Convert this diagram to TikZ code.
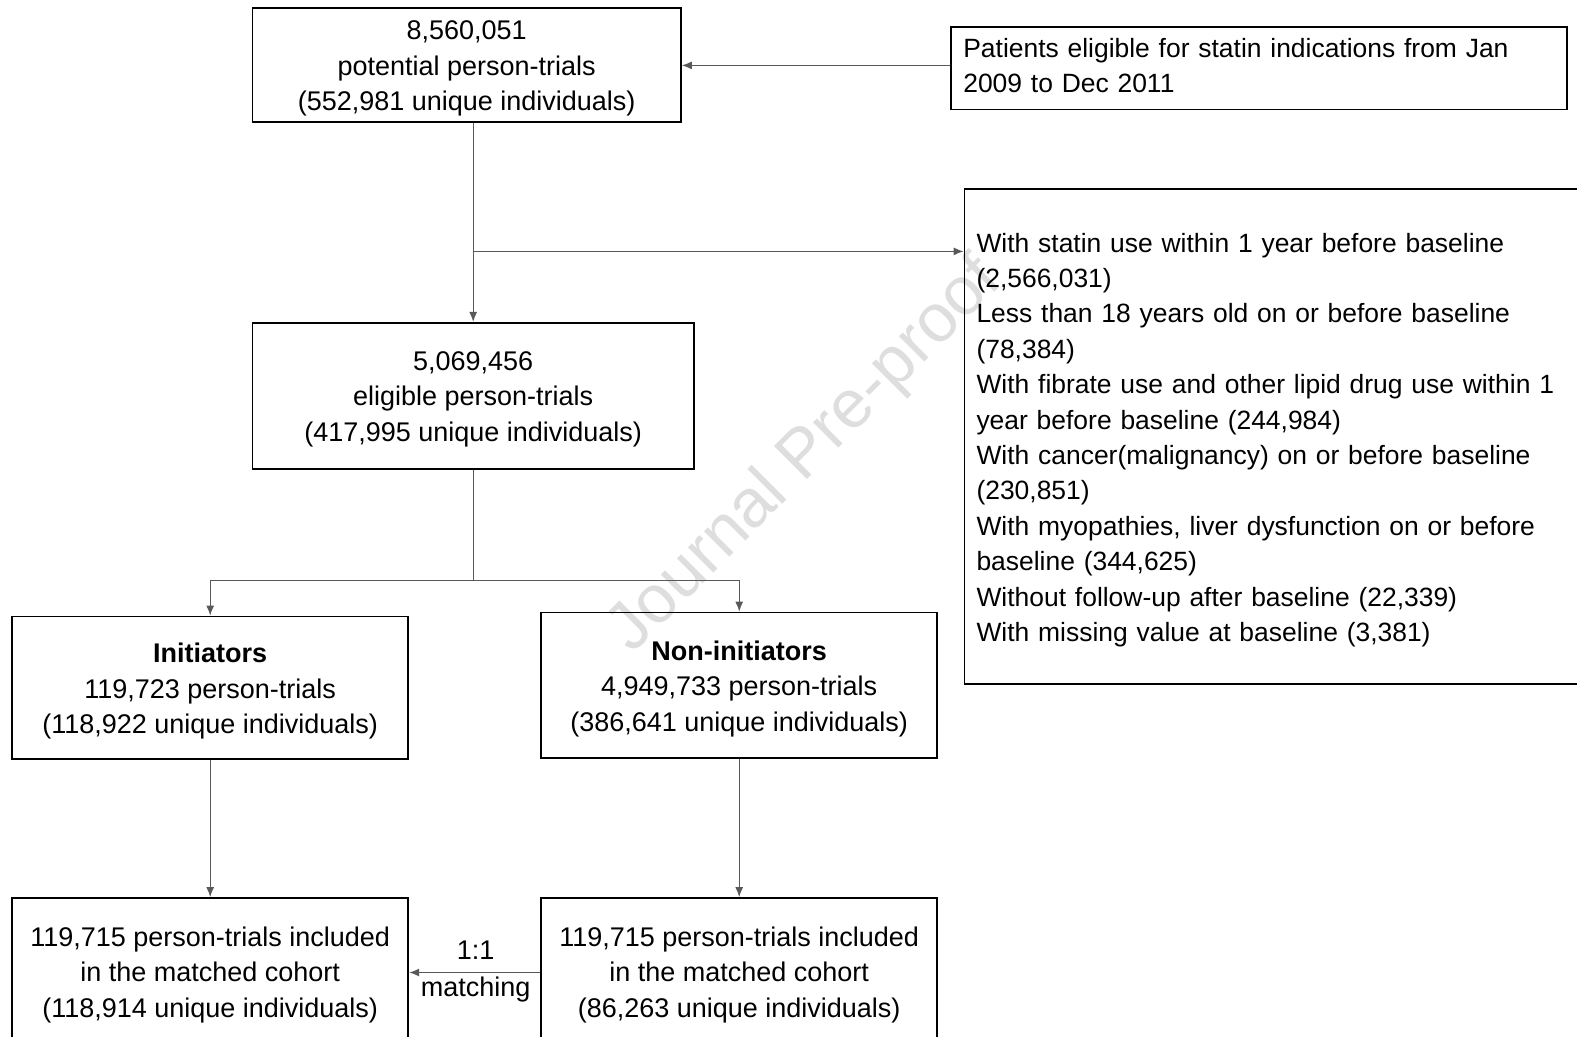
\documentclass[tikz,border=0pt]{standalone}
\usepackage{fontspec}
\setmainfont{Liberation Sans}
\usetikzlibrary{arrows.meta,calc}
\newcommand{\tfix}{\rule{0pt}{13pt}}
\newcommand{\bfix}{\rule[-3pt]{0pt}{3pt}}
\begin{document}
\begin{tikzpicture}[x=0.5pt,y=-0.5pt,
  box/.style={draw=black,line width=0.9pt,inner sep=0pt,align=center,
    font=\fontsize{13.5pt}{17.7pt}\selectfont},
  lbox/.style={draw=black,line width=0.9pt,inner ysep=0pt,inner xsep=6pt,align=left,
    font=\fontsize{13.22pt}{17.7pt}\selectfont},
  conn/.style={draw=black!65,line width=0.6pt},
  arr/.style={conn,-{Latex[length=5pt,width=4pt]}},
  lbl/.style={inner sep=0pt,font=\fontsize{13.5pt}{17.7pt}\selectfont}]
\useasboundingbox (0,0) rectangle (1577,1037);
% watermark
\node[rotate=45,text=black!13,inner sep=0pt,font=\fontsize{34pt}{34pt}\selectfont] (wm) at (806,456) {Journal Pre-proof};
% boxes
\node[box,minimum width=214.2pt,minimum height=56.8pt] (top) at (466.7,64.9)
  {\tfix 8,560,051\\potential person-trials\\(552,981 unique individuals)};
\node[lbox,minimum width=307.8pt,minimum height=41.2pt,text width=295.8pt] (pat) at (1259.1,68.4)
  {Patients eligible for statin indications from Jan\\2009 to Dec 2011\bfix};
\node[lbox,minimum width=312.75pt,minimum height=247.5pt,text width=300.75pt] (excl) at (1277.25,436.5)
  {\tfix With statin use within 1 year before baseline\\(2,566,031)\\Less than 18 years old on or before baseline\\(78,384)\\With fibrate use and other lipid drug use within 1\\year before baseline (244,984)\\With cancer(malignancy) on or before baseline\\(230,851)\\With myopathies, liver dysfunction on or before\\baseline (344,625)\\Without follow-up after baseline (22,339)\\With missing value at baseline (3,381)};
\node[box,minimum width=220.8pt,minimum height=72.9pt] (mid) at (473.2,395.7)
  {\tfix 5,069,456\\eligible person-trials\\(417,995 unique individuals)};
\node[box,minimum width=198.1pt,minimum height=71.4pt] (init) at (210.2,687.9)
  {\tfix\textbf{Initiators}\\119,723 person-trials\\(118,922 unique individuals)};
\node[box,minimum width=198.1pt,minimum height=72.9pt] (non) at (739.2,685.4)
  {\tfix\textbf{Non-initiators}\\4,949,733 person-trials\\(386,641 unique individuals)};
\node[box,minimum width=198.1pt,minimum height=73.5pt] (mL) at (210.2,971.5)
  {\tfix 119,715 person-trials included\\in the matched cohort\\(118,914 unique individuals)};
\node[box,minimum width=198.1pt,minimum height=73.5pt] (mR) at (739.2,971.5)
  {\tfix 119,715 person-trials included\\in the matched cohort\\(86,263 unique individuals)};
% connectors
\draw[arr] ([yshift=1.5pt]pat.west) -- ([yshift=1.5pt]pat.west -| top.east);
\draw[arr] (top.south -| mid.north) -- (mid.north);
\coordinate (br) at (473.2,251.4);
\draw[arr] (br) -- (br -| excl.west);
\coordinate (split) at (473.2,580.3);
\draw[conn] (mid.south) -- (split);
\draw[arr] (split) -| (init.north);
\draw[arr] (split) -| (non.north);
\draw[arr] (init.south) -- (mL.north);
\draw[arr] (non.south) -- (mR.north);
\draw[arr] ([yshift=-0.5pt]mR.west) -- ([yshift=-0.5pt]mR.west -| mL.east);
\node[lbl] (l11) at (475.7,950.4) {1:1};
\node[lbl] (lmatch) at (475.7,989.6) {matching};
\end{tikzpicture}
\end{document}
